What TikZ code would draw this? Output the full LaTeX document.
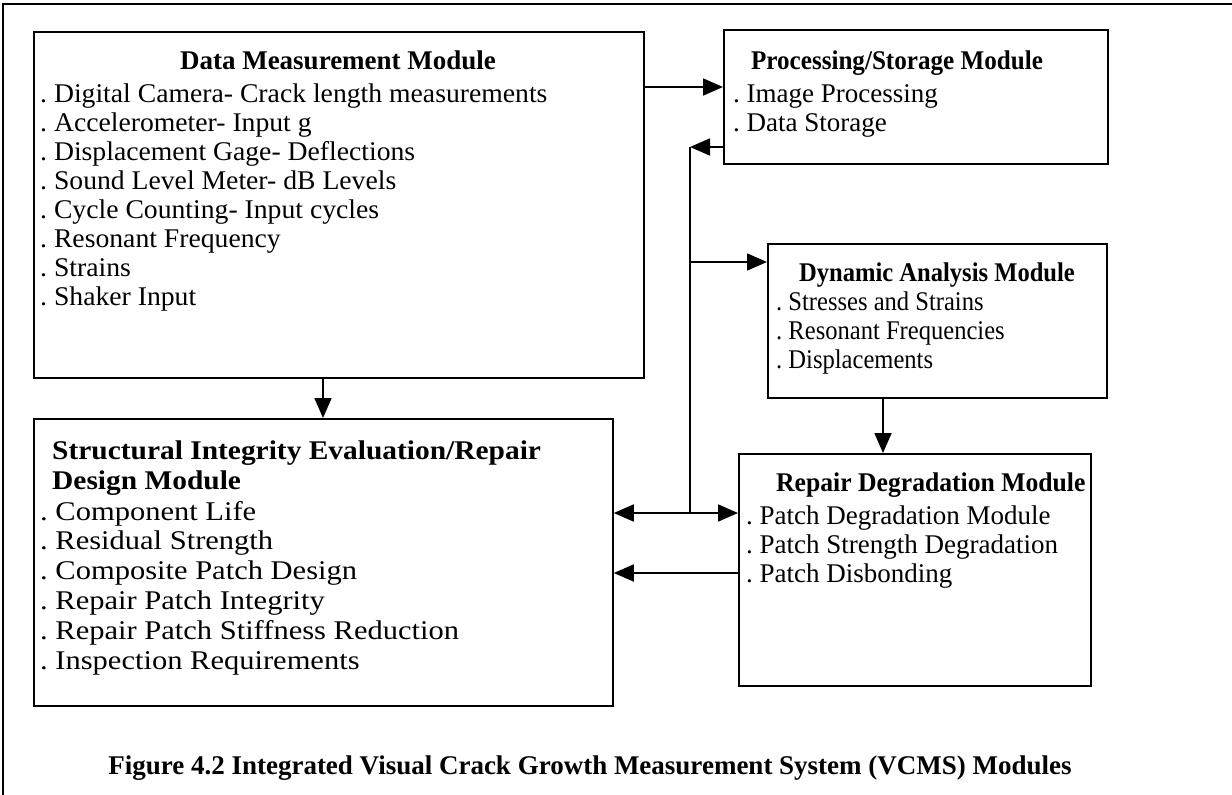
\documentclass[tikz,border=0pt]{standalone}
\usepackage{fontspec}
\setmainfont{Liberation Serif}
\newfontfamily\fDM[FakeStretch=1.025]{Liberation Serif}
\newfontfamily\fSIE[FakeStretch=1.13]{Liberation Serif}
\newfontfamily\fSIEt[FakeStretch=1.09]{Liberation Serif}
\newfontfamily\fDA[FakeStretch=0.91]{Liberation Serif}
\newfontfamily\fPSt[FakeStretch=0.93]{Liberation Serif}
\newfontfamily\fRDt[FakeStretch=0.95]{Liberation Serif}
\usetikzlibrary{arrows.meta}
\begin{document}
\begin{tikzpicture}[x=1pt,y=-1pt,
  box/.style={draw, line width=1.8pt, anchor=north west, inner sep=0pt},
  item/.style={anchor=base west, inner sep=0pt, font=\fontsize{27}{29}\selectfont},
  ttl/.style={anchor=base, inner sep=0pt, font=\fontsize{27}{29}\selectfont\bfseries},
  conn/.style={line width=1.8pt},
  tip/.tip={Triangle[length=20pt,width=17pt]},
  arr/.style={conn, -tip},
  ]
\useasboundingbox (0,0) rectangle (1232,795);
\fill[white] (0,0) rectangle (1232,795);
\coordinate (fbl) at (3,795);
\coordinate (ftl) at (3,4);
\coordinate (ftr) at (1232,4);
\draw[conn] (fbl) -- (ftl) -- (ftr);

% boxes
\node[box, minimum width=610pt, minimum height=346pt] (dm) at (33,31) {};
\node[box, minimum width=384pt, minimum height=134pt] (ps) at (723,29) {};
\node[box, minimum width=339pt, minimum height=154pt] (da) at (767,243) {};
\node[box, minimum width=352pt, minimum height=232pt] (rd) at (738,453) {};
\node[box, minimum width=579pt, minimum height=287pt] (sie) at (33,418) {};

% Data measurement
\node[ttl] (dmt) at (338,69) {Data Measurement Module};
\foreach \t [count=\i] in {Digital Camera- Crack length measurements, Accelerometer- Input g, Displacement Gage- Deflections, Sound Level Meter- dB Levels, Cycle Counting- Input cycles, Resonant Frequency, Strains, Shaker Input}
  \node[item] (dm\i) at (40,{102+29*(\i-1)}) {\fDM .\ \t};

% Processing
\node[ttl] (pst) at (897,69) {\fPSt Processing/Storage Module};
\foreach \t [count=\i] in {Image Processing, Data Storage}
  \node[item] (ps\i) at (733,{102+29*(\i-1)}) {.\ \t};

% Dynamic
\node[ttl] (dat) at (937,281) {\fDA Dynamic Analysis Module};
\foreach \t [count=\i] in {Stresses and Strains, Resonant Frequencies, Displacements}
  \node[item] (da\i) at (776,{310+29*(\i-1)}) {\fDA .\ \t};

% Repair degradation
\node[ttl, anchor=base west] (rdt) at (776,491) {\fRDt Repair Degradation Module};
\foreach \t [count=\i] in {Patch Degradation Module, Patch Strength Degradation, Patch Disbonding}
  \node[item] (rd\i) at (746,{524+29*(\i-1)}) {.\ \t};

% Structural integrity
\node[ttl, anchor=base west] (siet1) at (52,459) {\fSIEt Structural Integrity Evaluation/Repair};
\node[ttl, anchor=base west] (siet2) at (52,489) {\fSIEt Design Module};
\foreach \t [count=\i] in {Component Life, Residual Strength, Composite Patch Design, Repair Patch Integrity, Repair Patch Stiffness Reduction, Inspection Requirements}
  \node[item] (sie\i) at (40,{520+29.8*(\i-1)}) {\fSIE .\ \t};

% junctions
\coordinate (j1) at (690,147);
\coordinate (j2) at (690,262);
\coordinate (j3) at (690,513);
\coordinate (a1) at (0,87);
\coordinate (a2) at (883,0);
\coordinate (a3) at (323,0);
\coordinate (a4) at (0,573);

% connectors
\draw[arr] (dm.east |- a1) -- (ps.west |- a1);
\draw[arr] (ps.west |- j1) -- (j1);
\draw[conn] (j1) -- (j3);
\draw[arr] (j2) -- (da.west |- j2);
\draw[conn, tip-tip] (sie.east |- j3) -- (rd.west |- j3);
\draw[arr] (da.south -| a2) -- (rd.north -| a2);
\draw[arr] (dm.south -| a3) -- (sie.north -| a3);
\draw[arr] (rd.west |- a4) -- (sie.east |- a4);

% caption
\node[ttl] (cap) at (590,774) {Figure 4.2 Integrated Visual Crack Growth Measurement System (VCMS) Modules};
\end{tikzpicture}
\end{document}
